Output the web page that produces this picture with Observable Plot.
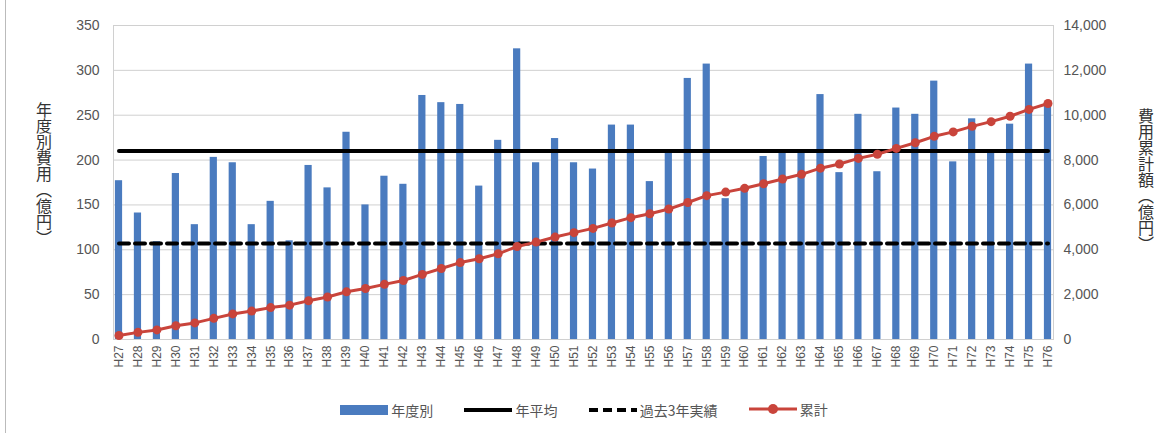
<!DOCTYPE html>
<html><head><meta charset="utf-8">
<script src="https://cdn.jsdelivr.net/npm/d3@7"></script>
<script src="https://cdn.jsdelivr.net/npm/@observablehq/plot@0.6"></script>
<style>
body{margin:0;background:#fff;font-family:"Noto Sans CJK JP",sans-serif;}
#wrap{position:relative;width:1168px;height:433px;}
.vl{position:absolute;writing-mode:vertical-rl;font-size:16px;color:#333;line-height:1;}
#legend{position:absolute;top:399px;left:0;width:1168px;text-align:center;font-size:14px;color:#555;}
#legend span{display:inline-flex;align-items:center;margin:0 14px;}
#border{position:absolute;left:5px;top:0;width:1px;height:433px;background:#bbb;}
</style></head><body>
<div id="wrap"><div id="border"></div><div id="chart"></div>
<div class="vl" style="left:36px;top:102px;">年度別費用（億円）</div>
<div class="vl" style="left:1138px;top:108px;">費用累計額（億円）</div>
<div id="legend">
<span><svg width="48" height="10"><rect x="0" y="0" width="48" height="10" fill="#4a7bbf"/></svg>&nbsp;年度別</span>
<span><svg width="48" height="10"><line x1="0" x2="48" y1="5" y2="5" stroke="#000" stroke-width="4"/></svg>&nbsp;年平均</span>
<span><svg width="48" height="10"><line x1="0" x2="48" y1="5" y2="5" stroke="#000" stroke-width="4" stroke-dasharray="9,5"/></svg>&nbsp;過去3年実績</span>
<span><svg width="48" height="12"><line x1="0" x2="48" y1="6" y2="6" stroke="#c9443b" stroke-width="3"/><circle cx="24" cy="6" r="5" fill="#c9443b"/></svg>&nbsp;累計</span>
</div></div>
<script>
const years = ["H27","H28","H29","H30","H31","H32","H33","H34","H35","H36","H37","H38","H39","H40","H41","H42","H43","H44","H45","H46","H47","H48","H49","H50","H51","H52","H53","H54","H55","H56","H57","H58","H59","H60","H61","H62","H63","H64","H65","H66","H67","H68","H69","H70","H71","H72","H73","H74","H75","H76"];
const annual = [177,141,109,185,128,203,197,128,154,110,194,169,231,150,182,173,272,264,262,171,222,324,197,224,197,190,239,239,176,208,291,307,157,170,204,210,210,273,186,251,187,258,251,288,198,246,210,240,307,264];
const average = 210;
const past3 = 107;
const rightTicks = [0,2000,4000,6000,8000,10000,12000,14000];
const ratio = 14000/350;
const cum = d3.cumsum(annual);
const rows = years.map((y,i)=>({year:y, v:annual[i], c:cum[i]/ratio}));
const chart = Plot.plot({
  width:1168, height:385,
  marginLeft:113, marginRight:115, marginTop:25, marginBottom:46,
  style:{fontFamily:"Liberation Sans, sans-serif", fontSize:"13px", color:"#555"},
  x:{domain:years, paddingInner:0.62, paddingOuter:0.1, label:null, align:0.5},
  y:{domain:[0,350], label:null},
  marks:[
    Plot.gridY([50,100,150,200,250,300,350],{stroke:"#d0d0d0", strokeOpacity:1}),
    Plot.frame({stroke:"#d0d0d0"}),
    Plot.barY(rows,{x:"year", y:"v", fill:"#4a7bbf"}),
    Plot.line(rows,{x:"year", y:()=>average, stroke:"#000", strokeWidth:4}),
    Plot.line(rows,{x:"year", y:()=>past3, stroke:"#000", strokeWidth:4, strokeDasharray:"10,6"}),
    Plot.line(rows,{x:"year", y:"c", stroke:"#c9443b", strokeWidth:3}),
    Plot.dot(rows,{x:"year", y:"c", fill:"#c9443b", r:4.5}),
    Plot.axisX({tickRotate:-90, tickSize:0, tickPadding:6, fontSize:12}),
    Plot.axisY({ticks:[0,50,100,150,200,250,300,350], tickSize:0, tickPadding:14, fontSize:14}),
    Plot.axisY({anchor:"right", ticks:rightTicks.map(t=>t/ratio), tickFormat:d=>d3.format(",")(Math.round(d*ratio)), tickSize:0, tickPadding:10, fontSize:14})
  ]
});
document.getElementById("chart").appendChild(chart);
</script></body></html>
